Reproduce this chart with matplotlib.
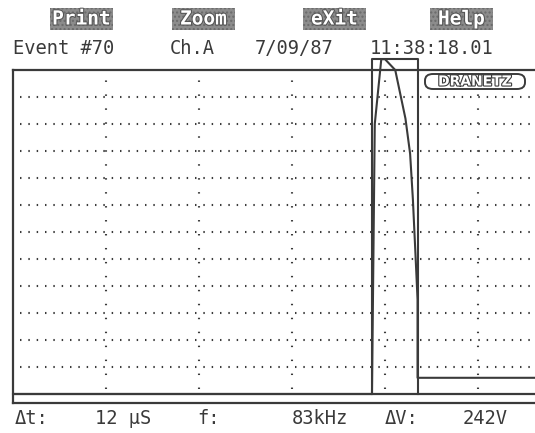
import numpy as np
import matplotlib.pyplot as plt
import matplotlib.patheffects as pe
from matplotlib.patches import Rectangle, FancyBboxPatch

# scope trace, in graticule divisions (x: 93 px/div, y: 27 px/div)
trace_x = [0.0, 3.86, 3.89, 3.96, 4.00, 4.11, 4.22, 4.27, 4.30, 4.33, 4.35, 4.35, 5.62]
trace_y = [0.0, 0.0, 10.0, 12.4, 12.4, 12.0, 10.2, 8.9, 7.2, 5.0, 3.5, 0.6, 0.6]

# zoom window (cursor box)
box_x = [3.86, 4.35]
box_y = [0.0, 12.4]

buttons = ["Print", "Zoom", "eXit", "Help"]
button_x = [50, 172, 303, 430]
header = ["Event #70", "Ch.A", "7/09/87", "11:38:18.01"]
header_x = [13, 170, 255, 370]
footer = ["\u0394t:", "12 \u03bcS", "f:", "83kHz", "\u0394V:", "242V"]
footer_x = [15, 95, 197, 292, 385, 463]

W, H = 535, 433
ink = "#3a3a3a"
mono = "DejaVu Sans Mono"

def fx(px):
    return px / W

def fy(py):
    return 1 - py / H

fig = plt.figure(figsize=(W / 100, H / 100), dpi=100)
fig.patch.set_facecolor("white")

ax = fig.add_axes([fx(13), fy(403), fx(535) - fx(13), fy(70) - fy(403)])
ax.set_xlim(0, (535 - 13) / 93)
ax.set_ylim(-9 / 27, 12)
ax.set_xticks([])
ax.set_yticks([])
ax.spines["right"].set_visible(False)
for s in ["left", "top", "bottom"]:
    ax.spines[s].set_color(ink)
    ax.spines[s].set_linewidth(1.6)

# dotted graticule
rows = np.arange(1, 12)
cols = np.arange(1, 6)
ax.hlines(rows, 0.08, 5.62, colors=ink, linewidth=1.5, linestyles=(0, (0.7, 3.3)))
ax.vlines(cols, 0.2, 11.9, colors=ink, linewidth=1.5, linestyles=(0, (0.7, 6.0)))
ax.axhline(0, color=ink, linewidth=1.6)

# trace and zoom window
ax.plot(trace_x, trace_y, color=ink, linewidth=1.5, clip_on=False)
ax.plot([box_x[0], box_x[0], box_x[1], box_x[1]],
        [box_y[0], box_y[1], box_y[1], box_y[0]],
        color=ink, linewidth=1.5, clip_on=False)

# brand label
fig.patches.append(FancyBboxPatch((fx(425), fy(89)), fx(100), 15 / H,
                                  boxstyle="round,pad=0,rounding_size=0.015",
                                  transform=fig.transFigure, fc="white",
                                  ec=ink, lw=1.4))
fig.text(fx(475), fy(81.5), "DRANETZ", fontsize=10, family="DejaVu Sans",
         fontweight="bold", color="white", ha="center", va="center",
         path_effects=[pe.withStroke(linewidth=1.6, foreground=ink)])

# soft key buttons
for lab, bx in zip(buttons, button_x):
    fig.patches.append(Rectangle((fx(bx), fy(30)), fx(63), 22 / H,
                                 transform=fig.transFigure, facecolor="#8c8c8c",
                                 edgecolor="#6a6a6a", hatch="....", lw=0))
    fig.text(fx(bx + 31.5), fy(19), lab, fontsize=14, family=mono,
             fontweight="bold", color="white", ha="center", va="center",
             path_effects=[pe.withStroke(linewidth=1.5, foreground="#555555")])

for lab, hx in zip(header, header_x):
    fig.text(fx(hx), fy(48), lab, fontsize=13.5, family=mono, color=ink,
             ha="left", va="center")

for lab, tx in zip(footer, footer_x):
    fig.text(fx(tx), fy(419), lab, fontsize=13.5, family=mono, color=ink,
             ha="left", va="center")

plt.savefig("out.png", dpi=100)
